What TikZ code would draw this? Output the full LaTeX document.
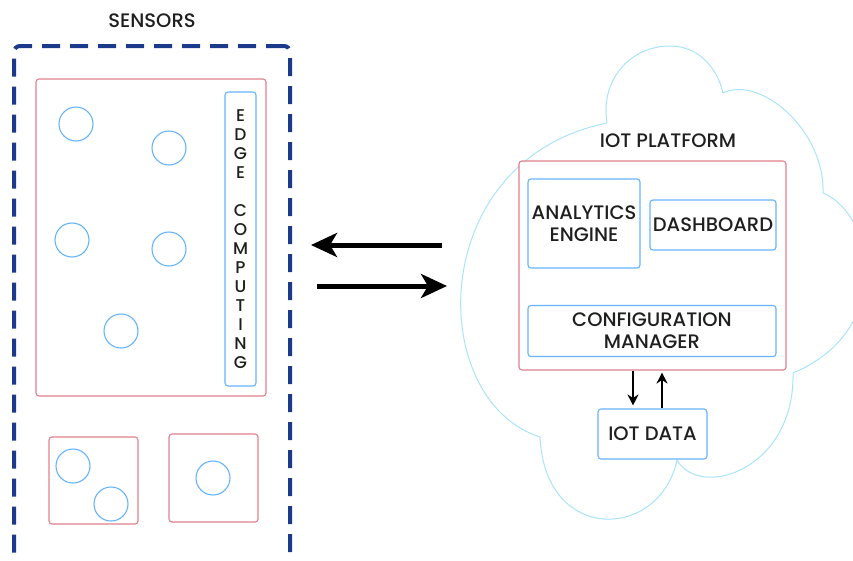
\documentclass[tikz,border=0pt]{standalone}
\usepackage{fontspec}
\setmainfont{Poppins}[UprightFont=* Medium]
\usepackage{tikz}
\usetikzlibrary{arrows.meta, positioning, calc}

\definecolor{frameblue}{HTML}{1C3A8C}
\definecolor{boxred}{HTML}{E07F8C}
\definecolor{boxblue}{HTML}{66B3FF}
\definecolor{cloudblue}{HTML}{A9E3FB}

\begin{document}
\begin{tikzpicture}[
  x=1pt, y=-1pt,
  every node/.style={font=\fontsize{19.5}{22}\selectfont, text=black!88},
  redbox/.style={rectangle, draw=boxred, line width=1.1pt, rounded corners=3pt},
  bluebox/.style={rectangle, draw=boxblue, fill=white, line width=1.1pt, rounded corners=3pt, align=center, inner sep=0pt},
  sensor/.style={circle, draw=boxblue, line width=1.1pt, minimum size=34pt, inner sep=0pt},
  sensorframe/.style={rectangle, draw=frameblue, line width=4pt, dash pattern=on 18pt off 10pt, rounded corners=6pt},
  flow/.style={-{Stealth[length=26pt, width=24pt, inset=7pt]}, line width=5pt},
  link/.style={-{Stealth[length=11pt, width=11pt]}, line width=2.8pt},
]
  \useasboundingbox (0,0) rectangle (853,560);

  % cloud
  \draw[cloudblue, line width=1pt]
    (607,123) .. controls (600,80) and (630,46) .. (670,46)
    .. controls (700,46) and (718,70) .. (723,93)
    .. controls (760,75) and (825,130) .. (823,193)
    .. controls (875,215) and (895,330) .. (793,373)
    .. controls (795,470) and (700,500) .. (677,460)
    .. controls (660,540) and (545,545) .. (540,437)
    .. controls (425,400) and (425,160) .. (607,123);

  % sensors side
  \node (SN) at (152,21) {SENSORS};
  \node[sensorframe, minimum width=276pt, minimum height=544pt] (FR) at (152,318) {};
  \node[redbox, minimum width=230pt, minimum height=317pt] (EG) at (151,237.5) {};
  \node[bluebox, minimum width=31pt, minimum height=294pt,
        font=\fontsize{17}{19}\selectfont] (EC) at (240.5,239)
        {E\\D\\G\\E\\~\\C\\O\\M\\P\\U\\T\\I\\N\\G};
  \node[sensor] (S1) at (76,124) {};
  \node[sensor] (S2) at (169,148) {};
  \node[sensor] (S3) at (72,240) {};
  \node[sensor] (S4) at (169,249) {};
  \node[sensor] (S5) at (121,331) {};

  \node[redbox, minimum width=89pt, minimum height=87pt] (G1) at (93.5,480.5) {};
  \node[sensor] (S6) at (73,466) {};
  \node[sensor] (S7) at (111,504) {};
  \node[redbox, minimum width=89pt, minimum height=88pt] (G2) at (213.5,478) {};
  \node[sensor] (S8) at (213,478) {};

  % exchange
  \coordinate (CL1) at (442,245);
  \coordinate (SL1) at (311,245);
  \coordinate (SL2) at (317,286);
  \coordinate (CL2) at (447,286);
  \draw[flow] (CL1) -- (SL1);
  \draw[flow] (SL2) -- (CL2);

  % platform side
  \node (PL) at (668,141) {IOT PLATFORM};
  \node[redbox, fill=white, minimum width=267pt, minimum height=209pt] (PF) at (652.5,265.5) {};
  \node[bluebox, minimum width=112pt, minimum height=89pt] (AE) at (584,223.5) {ANALYTICS\\ENGINE};
  \node[bluebox, minimum width=126pt, minimum height=50pt] (DB) at (713,225) {DASHBOARD};
  \node[bluebox, minimum width=248pt, minimum height=51pt] (CM) at (652,331) {CONFIGURATION\\MANAGER};
  \node[bluebox, minimum width=109pt, minimum height=50pt] (DATA) at (652.5,434) {IOT DATA};

  \draw[link] ([xshift=-19.5pt]PF.south) -- ([xshift=-19.5pt,yshift=3pt]DATA.north);
  \draw[link] ([xshift=9.5pt]DATA.north) -- ([xshift=9.5pt,yshift=-2pt]PF.south);
\end{tikzpicture}
\end{document}
